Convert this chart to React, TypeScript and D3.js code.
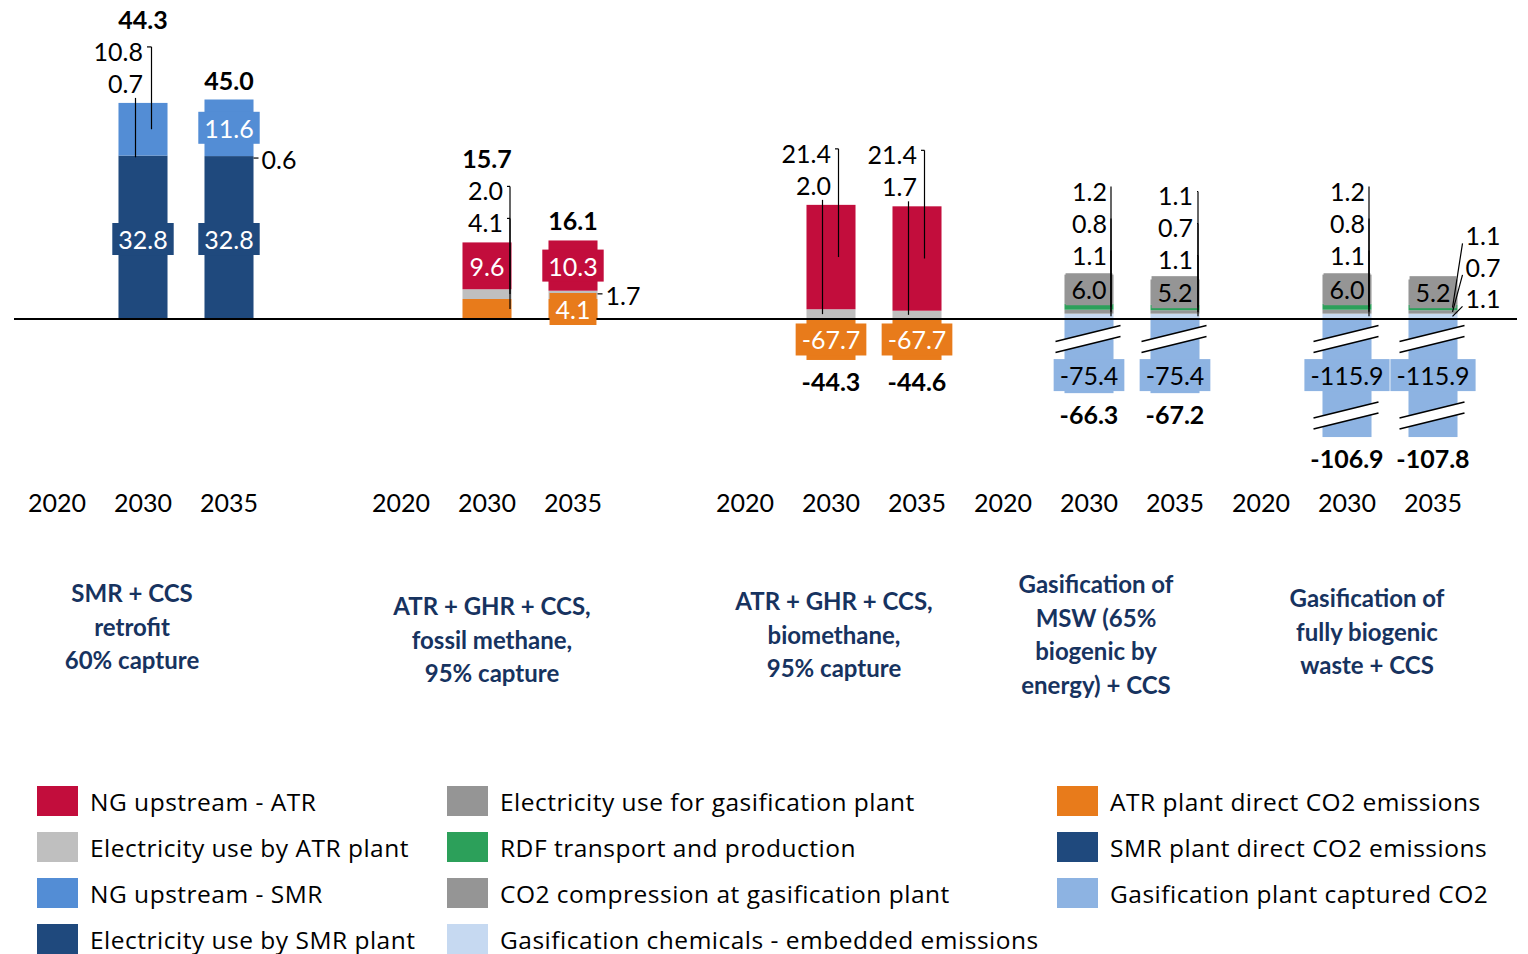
import React, { useRef, useEffect } from "react";
import * as d3 from "d3";

// ---------------------------------------------------------------------------
// DATA
// ---------------------------------------------------------------------------
const technologies = [
  ["SMR + CCS", "retrofit", "60% capture"],
  ["ATR + GHR + CCS,", "fossil methane,", "95% capture"],
  ["ATR + GHR + CCS,", "biomethane,", "95% capture"],
  ["Gasification of", "MSW (65%", "biogenic by", "energy) + CCS"],
  ["Gasification of", "fully biogenic", "waste + CCS"],
];
const years = ["2020", "2030", "2035"];

// one value per technology x year (15 entries)
const ngUpstreamATR = [0, 0, 0, 0, 9.6, 10.3, 0, 21.4, 21.4, 0, 0, 0, 0, 0, 0];
const elecATR = [0, 0, 0, 0, 2.0, 1.7, 0, 2.0, 1.7, 0, 0, 0, 0, 0, 0];
const ngUpstreamSMR = [0, 10.8, 11.6, 0, 0, 0, 0, 0, 0, 0, 0, 0, 0, 0, 0];
const elecSMR = [0, 0.7, 0.6, 0, 0, 0, 0, 0, 0, 0, 0, 0, 0, 0, 0];
const elecGasif = [0, 0, 0, 0, 0, 0, 0, 0, 0, 0, 6.0, 5.2, 0, 6.0, 5.2];
const rdfTransport = [0, 0, 0, 0, 0, 0, 0, 0, 0, 0, 1.2, 1.1, 0, 1.2, 1.1];
const co2Compression = [0, 0, 0, 0, 0, 0, 0, 0, 0, 0, 0.8, 0.7, 0, 0.8, 0.7];
const gasifChemicals = [0, 0, 0, 0, 0, 0, 0, 0, 0, 0, 1.1, 1.1, 0, 1.1, 1.1];
const atrDirect = [0, 0, 0, 0, 4.1, 4.1, 0, -67.7, -67.7, 0, 0, 0, 0, 0, 0];
const smrDirect = [0, 32.8, 32.8, 0, 0, 0, 0, 0, 0, 0, 0, 0, 0, 0, 0];
const gasifCaptured = [0, 0, 0, 0, 0, 0, 0, 0, 0, 0, -75.4, -75.4, 0, -115.9, -115.9];
const totals = [null, 44.3, 45.0, null, 15.7, 16.1, null, -44.3, -44.6, null, -66.3, -67.2, null, -106.9, -107.8];

const series = [
  { key: "ngATR", name: "NG upstream - ATR", values: ngUpstreamATR, color: "#C20D3C" },
  { key: "elecATR", name: "Electricity use by ATR plant", values: elecATR, color: "#BFBFBF" },
  { key: "ngSMR", name: "NG upstream - SMR", values: ngUpstreamSMR, color: "#538DD5" },
  { key: "elecSMR", name: "Electricity use by SMR plant", values: elecSMR, color: "#1F497D" },
  { key: "elecGasif", name: "Electricity use for gasification plant", values: elecGasif, color: "#959595" },
  { key: "rdf", name: "RDF transport and production", values: rdfTransport, color: "#2CA05A" },
  { key: "co2Comp", name: "CO2 compression at gasification plant", values: co2Compression, color: "#959595" },
  { key: "chem", name: "Gasification chemicals - embedded emissions", values: gasifChemicals, color: "#C6D9F1" },
  { key: "atrDirect", name: "ATR plant direct CO2 emissions", values: atrDirect, color: "#E87B1B" },
  { key: "smrDirect", name: "SMR plant direct CO2 emissions", values: smrDirect, color: "#1F497D" },
  { key: "captured", name: "Gasification plant captured CO2", values: gasifCaptured, color: "#8DB3E2" },
];

// bottom-up stacking order
const stackOrder = ["smrDirect", "elecSMR", "ngSMR", "atrDirect", "elecATR", "ngATR", "chem", "co2Comp", "rdf", "elecGasif", "captured"];
const darkSeries = ["ngATR", "ngSMR", "elecSMR", "atrDirect", "smrDirect"];

// broken axis: negative bars are cut off and drawn short
const displayFloor = [null, null, -8.4, -15.2, -24.2];
const breakAt = [[], [], [], [-4.1], [-4.1, -19.8]];

// label layout
const insideLabels: [number, string][] = [
  [1, "smrDirect"], [2, "smrDirect"], [2, "ngSMR"], [4, "ngATR"], [5, "ngATR"], [5, "atrDirect"],
  [7, "atrDirect"], [8, "atrDirect"], [10, "elecGasif"], [11, "elecGasif"], [10, "captured"], [11, "captured"],
  [13, "elecGasif"], [14, "elecGasif"], [13, "captured"], [14, "captured"],
];
const leftLabels = [
  { slot: 1, keys: ["elecSMR", "ngSMR"], textDx: 0, lineDx: [-7.5, 8.5] },
  { slot: 4, keys: ["atrDirect", "elecATR"], textDx: 16, lineDx: [23, 23] },
  { slot: 7, keys: ["elecATR", "ngATR"], textDx: 0, lineDx: [-8.5, 7.5] },
  { slot: 8, keys: ["elecATR", "ngATR"], textDx: 0, lineDx: [-8.5, 7.5] },
  { slot: 10, keys: ["chem", "co2Comp", "rdf"], textDx: 18, lineDx: [22, 22, 22] },
  { slot: 11, keys: ["chem", "co2Comp", "rdf"], textDx: 18, lineDx: [23, 23, 23] },
  { slot: 13, keys: ["chem", "co2Comp", "rdf"], textDx: 18, lineDx: [22, 22, 22] },
];
const rightLabels = [
  { slot: 2, keys: ["elecSMR"], dy: 1.5, slant: false },
  { slot: 5, keys: ["elecATR"], dy: 0, slant: false },
  { slot: 14, keys: ["chem", "co2Comp", "rdf"], dy: -18, slant: true },
];
const titleOffset = [[-11, 626], [5, 639], [3, 634], [7, 634], [20, 631]];

const FONT = "Lato, 'Open Sans', sans-serif";
const LEGEND_FONT = "'Open Sans', Lato, sans-serif";

export default function App() {
  const svgRef = useRef<SVGSVGElement | null>(null);

  useEffect(() => {
    const svg = d3.select(svgRef.current);
    svg.selectAll("*").remove();
    svg.attr("font-family", FONT);

    // slots: 3 years per technology, with empty gaps after the first two groups
    const slotKeys: string[] = [];
    technologies.forEach((_, ti) => {
      if (ti === 1 || ti === 2) slotKeys.push(`gap${ti}`);
      years.forEach((yr) => slotKeys.push(`${ti}-${yr}`));
    });

    const x = d3.scaleBand<string>().domain(slotKeys).range([14, 1476]).paddingInner(0.43).paddingOuter(0.215);
    const y = d3.scaleLinear().domain([0, 45]).range([319, 99.5]);
    const bw = x.bandwidth();

    const rows = technologies.flatMap((_, ti) =>
      years.map((yr, yi) => {
        const i = ti * 3 + yi;
        const row: any = { slot: `${ti}-${yr}`, tech: ti };
        series.forEach((s) => (row[s.key] = s.values[i]));
        return row;
      })
    );

    const stacked = d3.stack<any>().keys(stackOrder).offset(d3.stackOffsetDiverging)(rows);
    const seg = (key: string, i: number) => {
      const s = stacked.find((st) => st.key === key)!;
      const d = s[i];
      const floor = displayFloor[rows[i].tech];
      const lo = floor != null ? Math.max(d[0], floor) : d[0];
      const hi = floor != null ? Math.max(d[1], floor) : d[1];
      return { lo, hi, mid: y((lo + hi) / 2), value: series.find((q) => q.key === key)!.values[i] };
    };
    const cx = (i: number) => (x(rows[i].slot) as number) + bw / 2;
    const topOf = (i: number) => d3.max(stacked, (s) => s[i][1]) as number;
    const bottomOf = (i: number) => {
      const m = d3.min(stacked, (s) => s[i][0]) as number;
      const floor = displayFloor[rows[i].tech];
      return floor != null ? Math.max(m, floor) : m;
    };
    const colorOf = (key: string) => series.find((s) => s.key === key)!.color;
    const fmt = (v: number) => d3.format(".1f")(v).replace("\u2212", "-");

    // bars
    const gBars = svg.append("g");
    stacked.forEach((s) => {
      rows.forEach((r, i) => {
        const sg = seg(s.key, i);
        if (sg.hi - sg.lo <= 0) return;
        gBars
          .append("rect")
          .attr("x", x(r.slot) as number)
          .attr("width", bw)
          .attr("y", y(sg.hi))
          .attr("height", y(sg.lo) - y(sg.hi))
          .attr("fill", colorOf(s.key));
      });
    });

    // break marks
    rows.forEach((r, i) => {
      if (bottomOf(i) >= 0) return;
      breakAt[r.tech].forEach((v) => {
        const c = cx(i);
        const yc = y(v);
        const x0 = c - bw / 2 - 9;
        const x1 = c + bw / 2 + 7;
        const rise = 8;
        const half = 5.5;
        const g = svg.append("g");
        g.append("polygon")
          .attr("points", `${x0},${yc + rise - half} ${x1},${yc - rise - half} ${x1},${yc - rise + half} ${x0},${yc + rise + half}`)
          .attr("fill", "#fff");
        [-half, half].forEach((h) =>
          g.append("line")
            .attr("x1", x0).attr("y1", yc + rise + h)
            .attr("x2", x1).attr("y2", yc - rise + h)
            .attr("stroke", "#000").attr("stroke-width", 1.6)
        );
      });
    });

    // zero line
    svg.append("line").attr("x1", 14).attr("x2", 1517).attr("y1", y(0)).attr("y2", y(0)).attr("stroke", "#000").attr("stroke-width", 2);

    // inside labels with filled boxes
    const gLab = svg.append("g").attr("font-size", 25);
    insideLabels.forEach(([i, key]) => {
      const sg = seg(key, i);
      const broken = sg.value < 0 && breakAt[rows[i].tech].length > 0;
      const ly = broken ? y(-11.5) : sg.mid;
      const g = gLab.append("g");
      const t = g
        .append("text")
        .attr("x", cx(i))
        .attr("y", ly)
        .attr("text-anchor", "middle")
        .attr("dominant-baseline", "central")
        .attr("fill", darkSeries.includes(key) ? "#fff" : "#000")
        .text(fmt(sg.value));
      const w = (t.node() as SVGTextElement).getBBox().width + 12;
      g.insert("rect", "text")
        .attr("x", cx(i) - w / 2)
        .attr("y", ly - 16)
        .attr("width", w)
        .attr("height", 32)
        .attr("fill", colorOf(key));
    });

    // outside labels on the left, stacked above the bar
    leftLabels.forEach((L) => {
      const c = cx(L.slot);
      const top = y(topOf(L.slot));
      L.keys.forEach((key, k) => {
        const sg = seg(key, L.slot);
        const ly = top - 20 - 32 * k;
        const tx = c + L.textDx;
        gLab.append("text").attr("x", tx).attr("y", ly).attr("text-anchor", "end").attr("dominant-baseline", "central").attr("fill", "#000").text(fmt(sg.value));
        const lx = c + L.lineDx[k];
        const under = lx < tx;
        const y1 = under ? ly + 15 : ly - 4;
        if (!under) gLab.append("line").attr("x1", tx + 4).attr("x2", lx).attr("y1", y1).attr("y2", y1).attr("stroke", "#000").attr("stroke-width", 1.2);
        gLab.append("line").attr("x1", lx).attr("x2", lx).attr("y1", y1).attr("y2", sg.mid).attr("stroke", "#000").attr("stroke-width", 1.2);
      });
    });

    // outside labels on the right
    rightLabels.forEach((R) => {
      const right = cx(R.slot) + bw / 2;
      const first = seg(R.keys[0], R.slot);
      R.keys.forEach((key, k) => {
        const sg = seg(key, R.slot);
        const ly = first.mid + R.dy - 31.5 * k;
        const tx = right + 8;
        gLab.append("text").attr("x", tx).attr("y", ly).attr("dominant-baseline", "central").attr("fill", "#000").text(fmt(sg.value));
        if (R.slant) {
          gLab.append("line").attr("x1", tx - 3).attr("y1", ly + 8).attr("x2", right - 5).attr("y2", sg.mid).attr("stroke", "#000").attr("stroke-width", 1.2);
        } else {
          gLab.append("line").attr("x1", right).attr("x2", right + 5).attr("y1", ly - 1).attr("y2", ly - 1).attr("stroke", "#000").attr("stroke-width", 1.2);
        }
      });
    });

    // totals
    rows.forEach((r, i) => {
      const tot = totals[i];
      if (tot == null) return;
      let ly: number;
      if (tot >= 0) {
        const nLeft = leftLabels.find((L) => L.slot === i)?.keys.length ?? 0;
        ly = y(topOf(i)) - 20 - 32 * nLeft;
      } else {
        ly = y(bottomOf(i)) + 21;
      }
      gLab.append("text").attr("x", cx(i)).attr("y", ly).attr("text-anchor", "middle").attr("dominant-baseline", "central").attr("font-weight", 700).attr("fill", "#000").text(fmt(tot));
    });

    // year ticks
    const gYears = svg.append("g").attr("font-size", 25);
    rows.forEach((r, i) => {
      gYears.append("text").attr("x", cx(i)).attr("y", 502).attr("text-anchor", "middle").attr("dominant-baseline", "central").attr("fill", "#000").text(years[i % 3]);
    });

    // technology titles
    technologies.forEach((lines, ti) => {
      const c = cx(ti * 3 + 1) + titleOffset[ti][0];
      const yc = titleOffset[ti][1];
      const n = lines.length;
      lines.forEach((ln, li) => {
        svg
          .append("text")
          .attr("x", c)
          .attr("y", yc + (li - (n - 1) / 2) * 33.7)
          .attr("text-anchor", "middle")
          .attr("dominant-baseline", "central")
          .attr("font-size", 24)
          .attr("font-weight", 700)
          .attr("fill", "#17335F")
          .text(ln);
      });
    });

    // legend (column-major: 4, 4, 3)
    const legendCols = [series.slice(0, 4), series.slice(4, 8), series.slice(8)];
    const colX = [37, 447, 1057];
    const gLeg = svg.append("g").attr("font-size", 24.5).attr("letter-spacing", 0.5).attr("font-family", LEGEND_FONT);
    legendCols.forEach((col, ci) => {
      col.forEach((s, ri) => {
        const yc = 801 + 46 * ri;
        gLeg.append("rect").attr("x", colX[ci]).attr("y", yc - 15).attr("width", 41).attr("height", 30).attr("fill", s.color);
        gLeg.append("text").attr("x", colX[ci] + 53).attr("y", yc).attr("dominant-baseline", "central").attr("fill", "#000").text(s.name);
      });
    });
  }, []);

  return (
    <svg
      ref={svgRef}
      width={1528}
      height={954}
      style={{ position: "absolute", left: 0, top: 0, background: "#fff" }}
    />
  );
}
